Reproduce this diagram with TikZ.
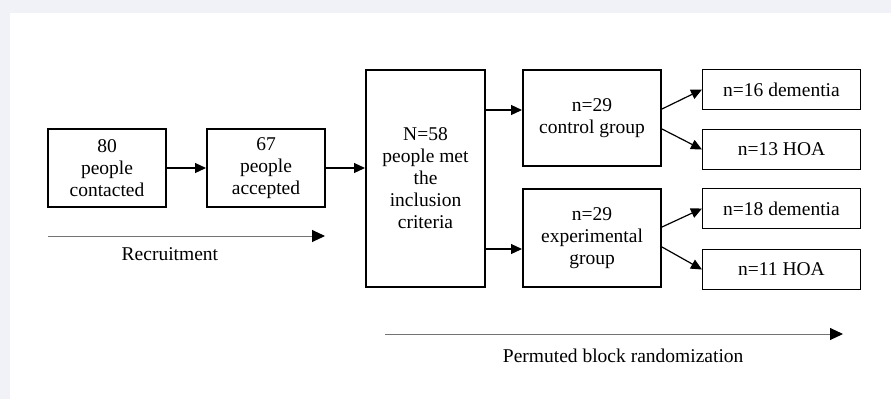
\documentclass[tikz,border=0pt]{standalone}
\usepackage{fontspec}
\setmainfont{Liberation Serif}
\usetikzlibrary{positioning,arrows.meta}
\definecolor{pagegrey}{RGB}{240,242,247}
\tikzset{node distance=39pt, auto,
  box/.style={draw, line width=2pt, align=center, inner sep=2pt},
  smallbox/.style={draw, line width=1pt, minimum width=158pt, minimum height=40pt},
  tip/.style={-{Triangle[length=11pt,width=10pt]}, line width=1.2pt},
  axis/.style={-{Triangle[length=13pt,width=12pt,color=black]}, draw=black!55, line width=1pt}}

\begin{document}
\begin{tikzpicture}[x=1pt, y=-1pt, font=\fontsize{19.5}{22}\selectfont]
  \fill[pagegrey] (0,0) rectangle (891,399);
  \fill[white] (10,13) rectangle (891,399);
  \useasboundingbox (0,0) rectangle (891,399);

  \node (Con) [box, minimum width=118pt, minimum height=78pt] at (107,168) {80\\people\\contacted};
  \node (Acc) [box, minimum width=118pt, minimum height=78pt, right=of Con] {67\\people\\accepted};
  \node (Inc) [box, minimum width=119pt, minimum height=217pt, right=of Acc, yshift=-10.5pt] {N=58\\people met\\the\\inclusion\\criteria};
  \node (Ctl) [box, minimum width=138pt, minimum height=96pt, right=36pt of Inc.north east, anchor=north west] {n=29\\control group};
  \node (Exp) [box, minimum width=138pt, minimum height=98pt, below=21pt of Ctl] {n=29\\experimental\\group};

  \node (CD) [smallbox, right=40pt of Ctl.north east, anchor=north west] {n=16 dementia};
  \node (CH) [smallbox, below=19pt of CD] {n=13 HOA};
  \node (ED) [smallbox, right=40pt of Exp.north east, anchor=north west] {n=18 dementia};
  \node (EH) [smallbox, below=20pt of ED] {n=11 HOA};

  \draw[tip] (Con) -- (Acc);
  \draw[tip] (Acc.east) -- (Acc.east -| Inc.west);
  \coordinate (ci) at ([yshift=8pt]Ctl.west);
  \coordinate (ei) at ([yshift=-11pt]Exp.west);
  \draw[tip] (Inc.east |- ci) -- (ci);
  \draw[tip] (Inc.east |- ei) -- (ei);

  \draw[tip] ([yshift=9pt]Ctl.east) -- (CD.west);
  \draw[tip] ([yshift=-11pt]Ctl.east) -- (CH.west);
  \draw[tip] ([yshift=11pt]Exp.east) -- (ED.west);
  \draw[tip] ([yshift=-9pt]Exp.east) -- (EH.west);

  % time lines under the boxes
  \coordinate (r0) at (48,236);
  \coordinate (r1) at (325,236);
  \draw[axis] (r0) -- node[pos=.44, below=8pt] {Recruitment} (r1);
  \coordinate (p0) at (385,334);
  \coordinate (p1) at (843,334);
  \draw[axis] (p0) -- node[pos=.52, below=11pt] {Permuted block randomization} (p1);
\end{tikzpicture}
\end{document}
